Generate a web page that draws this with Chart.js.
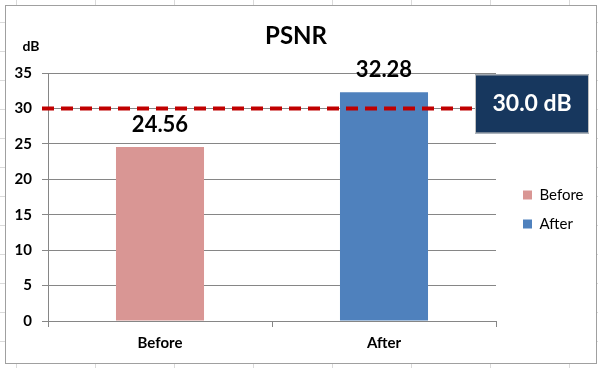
<!DOCTYPE html>
<html>
<head>
<meta charset="utf-8">
<script src="https://cdn.jsdelivr.net/npm/chart.js@4.4.1/dist/chart.umd.min.js"></script>
<style>
  body {
    margin: 0;
    width: 598px;
    height: 368px;
    overflow: hidden;
    background-color: #fff;
    background-image: linear-gradient(to right, #dadada 1px, transparent 1px),
                      linear-gradient(to bottom, #dadada 1px, transparent 1px);
    background-size: 79px 29px;
    background-position: 16px 22px;
  }
  #box {
    position: absolute;
    left: 5px;
    top: 5px;
    width: 590px;
    height: 357px;
    border: 1px solid #a0a0a0;
    background: #fff;
  }
</style>
</head>
<body>
<div id="box"><canvas id="psnr" width="590" height="357"></canvas></div>
<script>
var categories = ['Before', 'After'];
var psnrValues = [24.56, 32.28];
var barColors = ['#D99694', '#4F81BD'];
var yMin = 0, yMax = 35, yStep = 5;
var threshold = 30;

var gray = '#868686';
var font = 'Lato';

// threshold line, its label box, value labels and the unit text
var extras = {
    id: 'extras',
    afterDatasetsDraw: function (chart) {
        var ctx = chart.ctx;
        var area = chart.chartArea;
        var ty = chart.scales.y.getPixelForValue(threshold);
        var boxLeft = area.right - 21;

        ctx.save();
        ctx.strokeStyle = '#C00000';
        ctx.lineWidth = 4;
        ctx.setLineDash([12, 7]);
        ctx.beginPath();
        ctx.moveTo(area.left - 6, ty);
        ctx.lineTo(boxLeft, ty);
        ctx.stroke();
        ctx.setLineDash([]);

        ctx.fillStyle = '#17375E';
        ctx.fillRect(boxLeft, ty - 34, 114, 59);
        ctx.strokeStyle = '#bfbfbf';
        ctx.lineWidth = 1;
        ctx.strokeRect(boxLeft + 0.5, ty - 33.5, 113, 58);
        ctx.fillStyle = '#fff';
        ctx.font = 'bold 23px ' + font;
        ctx.textAlign = 'center';
        ctx.textBaseline = 'middle';
        ctx.fillText(threshold.toFixed(1) + ' dB', boxLeft + 57, ty - 4.5);

        ctx.fillStyle = '#000';
        ctx.font = 'bold 22px ' + font;
        ctx.textBaseline = 'alphabetic';
        chart.getDatasetMeta(0).data.forEach(function (bar, i) {
            ctx.fillText(psnrValues[i].toFixed(2), bar.x, bar.y - 15);
        });

        ctx.font = 'bold 14px ' + font;
        ctx.textBaseline = 'middle';
        ctx.fillText('dB', area.left - 17, area.top - 27);
        ctx.restore();
    }
};

new Chart(document.getElementById('psnr'), {
    type: 'bar',
    data: {
        labels: categories,
        datasets: [{
            label: 'PSNR',
            data: psnrValues,
            backgroundColor: barColors,
            borderWidth: 0,
            categoryPercentage: 1,
            barPercentage: 0.393
        }]
    },
    options: {
        responsive: false,
        animation: false,
        devicePixelRatio: 1,
        layout: { padding: { left: 0, right: 10, top: 0, bottom: 0 } },
        plugins: {
            title: {
                display: true,
                text: 'PSNR',
                color: '#000',
                font: { family: font, size: 24, weight: 'bold', lineHeight: 1.2 },
                padding: { top: 15.6, bottom: 22.6 }
            },
            legend: {
                position: 'right',
                fullSize: false,
                maxWidth: 77,
                // empty title only pushes the items down a little
                title: { display: true, text: '', font: { size: 10, lineHeight: 1 }, padding: { top: 15, bottom: 0 } },
                labels: {
                    boxWidth: 9,
                    boxHeight: 9,
                    padding: 14,
                    color: '#000',
                    font: { family: font, size: 15 },
                    generateLabels: function () {
                        return categories.map(function (c, i) {
                            return { text: c, fillStyle: barColors[i], strokeStyle: barColors[i], lineWidth: 0, hidden: false, index: i, fontColor: '#000' };
                        });
                    }
                }
            },
            tooltip: { enabled: false }
        },
        scales: {
            x: {
                grid: { display: true, drawOnChartArea: false, drawTicks: true, tickLength: 6, color: gray, offset: true },
                border: { color: gray },
                ticks: { color: '#000', font: { family: font, size: 15, weight: 'bold' }, padding: 7 },
                afterFit: function (s) { s.height = 42; }
            },
            y: {
                min: yMin,
                max: yMax,
                ticks: { stepSize: yStep, color: '#000', font: { family: font, size: 15, weight: 'bold' }, padding: 10 },
                grid: { color: gray, tickLength: 6 },
                border: { color: gray },
                afterFit: function (s) { s.width = 42; }
            },
            // spacer between the plot and the legend
            gap: {
                type: 'linear',
                position: 'right',
                display: true,
                grid: { display: false },
                border: { display: false },
                ticks: { display: false },
                afterFit: function (s) { s.width = 13; }
            }
        }
    },
    plugins: [extras]
});
</script>
</body>
</html>
